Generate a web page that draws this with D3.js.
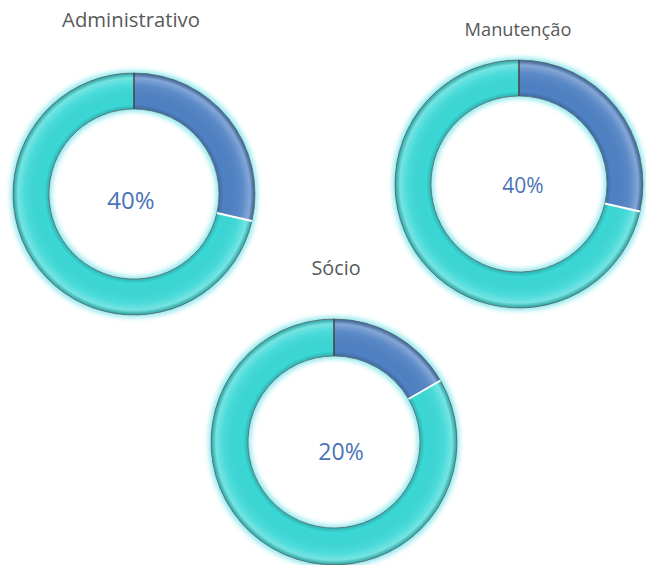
<!DOCTYPE html>
<html>
<head>
<meta charset="utf-8">
<script src="https://cdn.jsdelivr.net/npm/d3@7"></script>
<style>
  body { margin: 0; background: #fff; }
  svg { display: block; }
</style>
</head>
<body>
<div id="chart"></div>
<script>
// data
var categories = ["Administrativo", "Manutenção", "Sócio"];
var pctLabels = [40, 40, 20];
var darkPart = [2, 2, 1];
var lightPart = [5, 5, 5];

// layout for each donut
var centers = [[134, 194], [519, 184], [334, 442]];
var outerR = [121, 124, 123];
var innerR = [85, 88, 86];
var titlePos = [[131, 27, 20.3], [518, 36, 18.3], [336, 275, 19.8]];
var pctPos = [[131, 209, 24], [523, 193, 21], [341, 460, 23]];

var svgWidth = 646;
var svgHeight = 565;

var colors = ["#4f81c4", "#3ad8d6"];

var svg = d3.select("#chart")
    .append("svg")
    .attr("width", svgWidth)
    .attr("height", svgHeight);

var defs = svg.append("defs");

// soft cyan glow around the rings
var glow = defs.append("filter")
    .attr("id", "glow")
    .attr("x", "-20%").attr("y", "-20%")
    .attr("width", "140%").attr("height", "140%");
glow.append("feMorphology")
    .attr("in", "SourceAlpha").attr("operator", "dilate").attr("radius", 2).attr("result", "fat");
glow.append("feGaussianBlur")
    .attr("in", "fat").attr("stdDeviation", 2.5).attr("result", "blur");
glow.append("feFlood").attr("flood-color", "#8fe9ee").attr("result", "col");
glow.append("feComposite")
    .attr("in", "col").attr("in2", "blur").attr("operator", "in").attr("result", "halo");
var merge = glow.append("feMerge");
merge.append("feMergeNode").attr("in", "halo");
merge.append("feMergeNode").attr("in", "SourceGraphic");

var pie = d3.pie().sort(null).value(d => d);

categories.forEach(function(name, i) {
  var g = svg.append("g")
      .attr("transform", `translate(${centers[i][0]}, ${centers[i][1]})`);

  var ro = outerR[i], ri = innerR[i];
  var arc = d3.arc().innerRadius(ri).outerRadius(ro);
  var slices = pie([darkPart[i], lightPart[i]]);

  // bevel shading: lighter toward outer rim, shadow at inner rim
  var gradId = "bevel" + i;
  var rg = defs.append("radialGradient")
      .attr("id", gradId)
      .attr("gradientUnits", "userSpaceOnUse")
      .attr("cx", 0).attr("cy", 0).attr("r", ro);
  var f = ri / ro;
  rg.append("stop").attr("offset", 0).attr("stop-color", "#000").attr("stop-opacity", 0);
  rg.append("stop").attr("offset", f).attr("stop-color", "#000").attr("stop-opacity", 0.18);
  rg.append("stop").attr("offset", f + 0.04).attr("stop-color", "#000").attr("stop-opacity", 0);
  rg.append("stop").attr("offset", 0.9).attr("stop-color", "#fff").attr("stop-opacity", 0.08);
  rg.append("stop").attr("offset", 0.96).attr("stop-color", "#fff").attr("stop-opacity", 0.3);
  rg.append("stop").attr("offset", 1).attr("stop-color", "#000").attr("stop-opacity", 0.25);

  var ring = g.append("g").attr("filter", "url(#glow)");

  ring.selectAll("path.slice")
    .data(slices)
    .enter()
    .append("path")
    .attr("class", "slice")
    .attr("d", arc)
    .attr("fill", (d, j) => colors[j])
    .attr("stroke", "#6f8186")
    .attr("stroke-width", 1);

  ring.selectAll("path.shade")
    .data(slices)
    .enter()
    .append("path")
    .attr("class", "shade")
    .attr("d", arc)
    .attr("fill", `url(#${gradId})`);

  // white separator at end of dark slice, dark one at top
  var a = slices[0].endAngle;
  g.append("line")
    .attr("x1", Math.sin(a) * ri).attr("y1", -Math.cos(a) * ri)
    .attr("x2", Math.sin(a) * ro).attr("y2", -Math.cos(a) * ro)
    .attr("stroke", "#ffffff")
    .attr("stroke-width", 2);
  g.append("line")
    .attr("x1", 0).attr("y1", -ri)
    .attr("x2", 0).attr("y2", -ro)
    .attr("stroke", "#3f4a4e")
    .attr("stroke-width", 1.5);

  svg.append("text")
    .attr("x", titlePos[i][0])
    .attr("y", titlePos[i][1])
    .style("font-family", "'Open Sans', sans-serif")
    .style("font-size", titlePos[i][2] + "px")
    .style("text-anchor", "middle")
    .style("fill", "#595959")
    .text(name);

  svg.append("text")
    .attr("x", pctPos[i][0])
    .attr("y", pctPos[i][1])
    .style("font-family", "'Open Sans', sans-serif")
    .style("font-size", pctPos[i][2] + "px")
    .style("text-anchor", "middle")
    .style("fill", "#4a74b6")
    .text(pctLabels[i] + "%");
});
</script>
</body>
</html>
